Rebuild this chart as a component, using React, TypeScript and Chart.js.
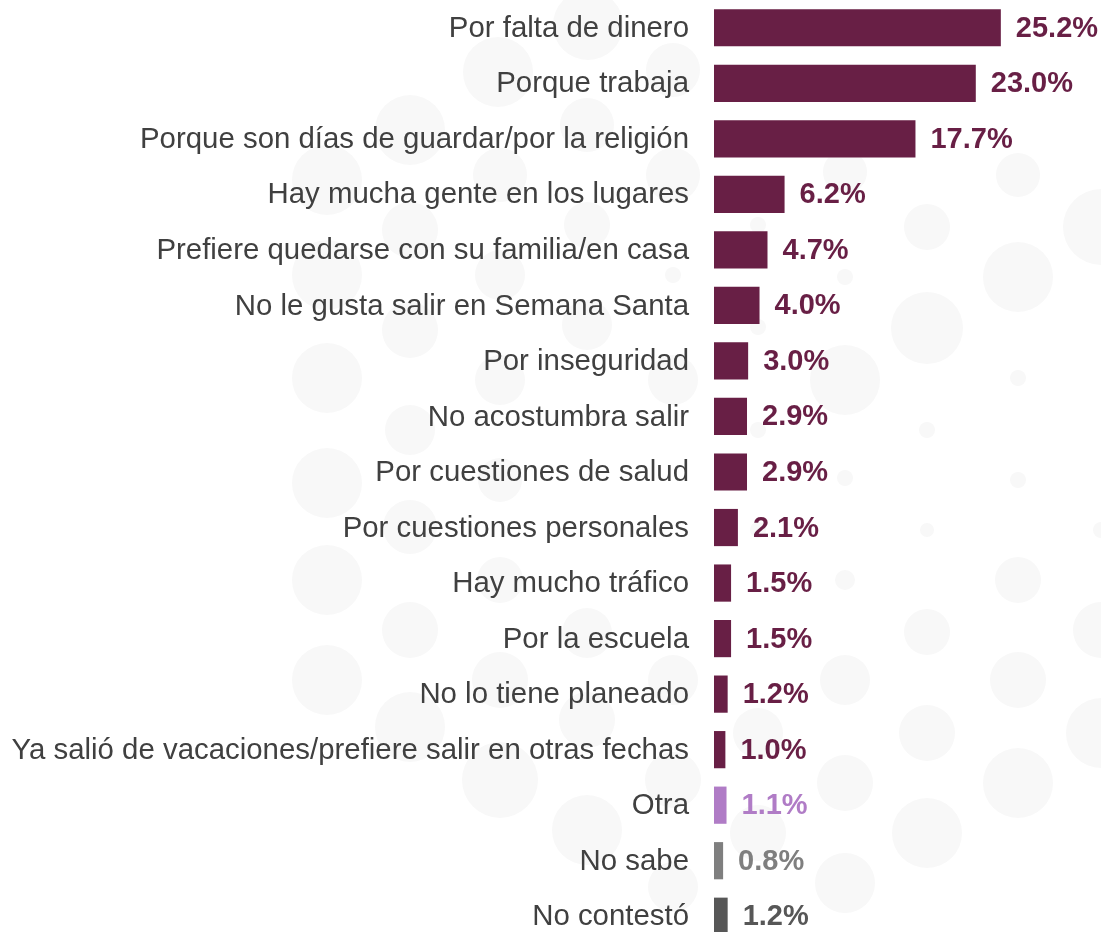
import React, { useEffect, useRef } from "react";
import { Chart, registerables } from "chart.js";

Chart.register(...registerables);

const categories = [
  "Por falta de dinero",
  "Porque trabaja",
  "Porque son días de guardar/por la religión",
  "Hay mucha gente en los lugares",
  "Prefiere quedarse con su familia/en casa",
  "No le gusta salir en Semana Santa",
  "Por inseguridad",
  "No acostumbra salir",
  "Por cuestiones de salud",
  "Por cuestiones personales",
  "Hay mucho tráfico",
  "Por la escuela",
  "No lo tiene planeado",
  "Ya salió de vacaciones/prefiere salir en otras fechas",
  "Otra",
  "No sabe",
  "No contestó",
];

const values = [25.2, 23.0, 17.7, 6.2, 4.7, 4.0, 3.0, 2.9, 2.9, 2.1, 1.5, 1.5, 1.2, 1.0, 1.1, 0.8, 1.2];

const MAROON = "#681F45";
const barColors = [
  ...Array(14).fill(MAROON),
  "#B07CC6",
  "#7F7F7F",
  "#575757",
];

const FONT = "Arial, 'Liberation Sans', sans-serif";

// faint decorative background dots [x, y, r]
const decoDots: number[][] = [
  [327, 180, 35], [327, 275, 35], [327, 378, 35], [327, 483, 35], [327, 580, 35], [327, 680, 35],
  [410, 130, 35], [410, 230, 28], [410, 330, 28], [410, 430, 25], [410, 527, 27], [410, 630, 28], [410, 727, 35],
  [498, 72, 35], [500, 175, 27], [500, 275, 25], [500, 380, 25], [500, 480, 22], [500, 580, 23], [500, 680, 28], [500, 780, 38],
  [588, 25, 35], [587, 125, 27], [587, 225, 23], [587, 325, 25], [587, 633, 25], [587, 720, 28], [587, 830, 35],
  [673, 70, 27], [673, 175, 27], [673, 275, 8], [673, 380, 25], [673, 680, 25], [673, 780, 28], [673, 887, 25],
  [758, 225, 8], [758, 327, 8], [758, 430, 8], [758, 530, 8], [758, 733, 25], [758, 833, 28],
  [845, 172, 22], [845, 277, 8], [845, 380, 35], [845, 478, 8], [845, 580, 10], [845, 680, 25], [845, 783, 28], [845, 883, 30],
  [927, 227, 23], [927, 328, 36], [927, 430, 8], [927, 530, 7], [927, 632, 23], [927, 733, 28], [927, 833, 35],
  [1018, 175, 22], [1018, 277, 35], [1018, 378, 8], [1018, 480, 8], [1018, 580, 23], [1018, 680, 28], [1018, 783, 35],
  [1101, 227, 38], [1101, 530, 8], [1101, 630, 28], [1101, 733, 35],
];

const backgroundPlugin = {
  id: "bgDots",
  beforeDraw(chart: any) {
    const { ctx } = chart;
    ctx.save();
    ctx.fillStyle = "#F8F8F8";
    decoDots.forEach(([x, y, r]) => {
      ctx.beginPath();
      ctx.arc(x, y, r, 0, Math.PI * 2);
      ctx.fill();
    });
    ctx.restore();
  },
};

const labelPlugin = {
  id: "labels",
  afterDatasetsDraw(chart: any) {
    const { ctx } = chart;
    const meta = chart.getDatasetMeta(0);
    const yScale = chart.scales.y;
    ctx.save();
    ctx.textBaseline = "middle";
    ctx.font = `29.4px ${FONT}`;
    ctx.textAlign = "right";
    ctx.fillStyle = "#404040";
    categories.forEach((c, i) => {
      ctx.fillText(c, chart.chartArea.left - 25, yScale.getPixelForValue(i) + 1);
    });
    ctx.font = `bold 29px ${FONT}`;
    ctx.textAlign = "left";
    meta.data.forEach((bar: any, i: number) => {
      ctx.fillStyle = barColors[i];
      ctx.fillText(values[i].toFixed(1) + "%", bar.x + 15, bar.y + 1);
    });
    ctx.restore();
  },
};

export default function App() {
  const ref = useRef<HTMLCanvasElement | null>(null);
  useEffect(() => {
    document.body.style.margin = "0";
    const canvas = ref.current!;
    const chart = new Chart(canvas, {
      type: "bar",
      data: {
        labels: categories,
        datasets: [
          {
            data: values,
            backgroundColor: barColors,
            borderWidth: 0,
            categoryPercentage: 1,
            barPercentage: 0.67,
          },
        ],
      },
      options: {
        indexAxis: "y",
        responsive: false,
        animation: false,
        layout: { padding: { left: 714, right: 0, top: 0, bottom: 0 } },
        plugins: {
          legend: { display: false },
          tooltip: { enabled: false },
        },
        scales: {
          x: { display: false, min: 0, max: 34 },
          y: { display: false },
        },
      },
      plugins: [backgroundPlugin, labelPlugin],
    });
    return () => chart.destroy();
  }, []);
  return (
    <div style={{ width: 1101, height: 932, overflow: "hidden", position: "relative", background: "#fff" }}>
      <canvas ref={ref} width={1101} height={944} style={{ display: "block" }} />
    </div>
  );
}
